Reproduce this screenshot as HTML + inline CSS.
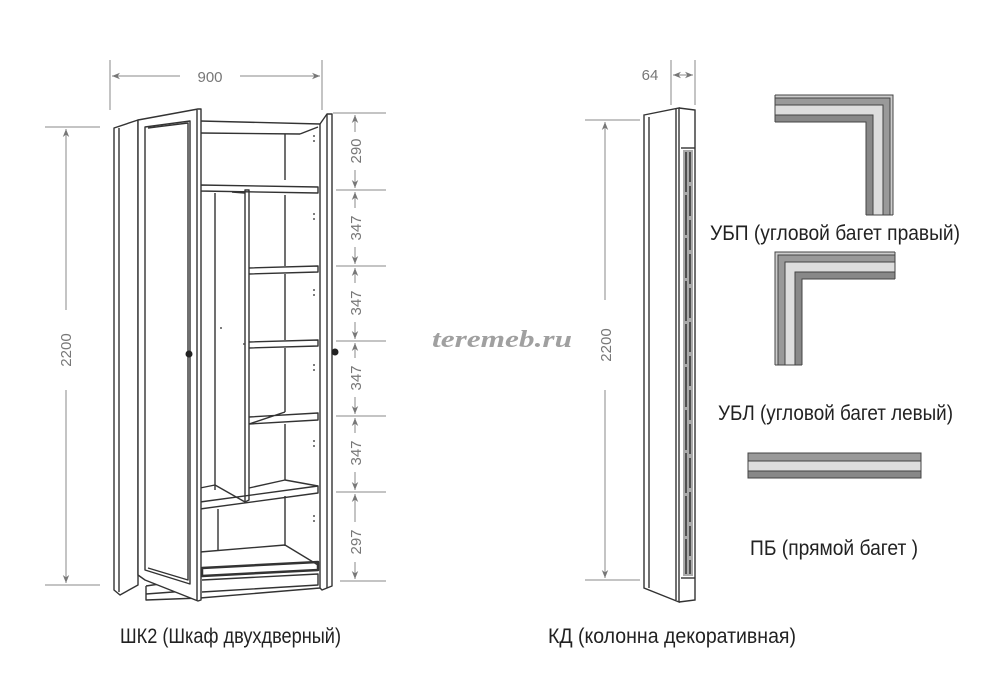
<!DOCTYPE html>
<html><head><meta charset="utf-8"><style>
html,body{margin:0;padding:0;background:#fff}
svg{display:block}
.l{font-family:"Liberation Sans Narrow","Liberation Sans",sans-serif;fill:#222}
.d{font-family:"Liberation Sans Narrow","Liberation Sans",sans-serif;fill:#777;font-size:15px}
</style></head><body>
<svg width="1000" height="679" viewBox="0 0 1000 679" xmlns="http://www.w3.org/2000/svg">
<defs>
<marker id="a" viewBox="0 0 10 10" refX="10" refY="5" markerWidth="8" markerHeight="8" orient="auto-start-reverse"><path d="M0,1 L10,5 L0,9 L3,5 z" fill="#777"/></marker>
</defs>
<rect width="1000" height="679" fill="#fff"/>

<g stroke="#888" stroke-width="1" fill="none">
<line x1="110" y1="60" x2="110" y2="110"/><line x1="322" y1="60" x2="322" y2="110"/>
<line x1="112" y1="76" x2="180" y2="76" marker-start="url(#a)"/><line x1="240" y1="76" x2="320" y2="76" marker-end="url(#a)"/>
<line x1="45" y1="127" x2="100" y2="127"/><line x1="45" y1="585" x2="100" y2="585"/>
<line x1="66" y1="129" x2="66" y2="310" marker-start="url(#a)"/><line x1="66" y1="390" x2="66" y2="583" marker-end="url(#a)"/>
<line x1="333" y1="113" x2="386" y2="113"/>
<line x1="336" y1="190" x2="386" y2="190"/>
<line x1="336" y1="266" x2="386" y2="266"/>
<line x1="336" y1="341" x2="386" y2="341"/>
<line x1="336" y1="416" x2="386" y2="416"/>
<line x1="336" y1="492" x2="386" y2="492"/>
<line x1="340" y1="581" x2="386" y2="581"/>
<line x1="355" y1="115" x2="355" y2="132" marker-start="url(#a)"/><line x1="355" y1="170" x2="355" y2="188" marker-end="url(#a)"/>
<line x1="355" y1="192" x2="355" y2="208" marker-start="url(#a)"/><line x1="355" y1="247" x2="355" y2="264" marker-end="url(#a)"/>
<line x1="355" y1="268" x2="355" y2="283" marker-start="url(#a)"/><line x1="355" y1="322" x2="355" y2="339" marker-end="url(#a)"/>
<line x1="355" y1="343" x2="355" y2="358" marker-start="url(#a)"/><line x1="355" y1="397" x2="355" y2="414" marker-end="url(#a)"/>
<line x1="355" y1="418" x2="355" y2="433" marker-start="url(#a)"/><line x1="355" y1="472" x2="355" y2="490" marker-end="url(#a)"/>
<line x1="355" y1="494" x2="355" y2="522" marker-start="url(#a)"/><line x1="355" y1="562" x2="355" y2="579" marker-end="url(#a)"/>
</g>
<text class="d" x="210" y="82" text-anchor="middle">900</text>
<text class="d" transform="translate(71,350) rotate(-90)" text-anchor="middle">2200</text>
<g class="d" text-anchor="middle">
<text transform="translate(361,151) rotate(-90)">290</text>
<text transform="translate(361,228) rotate(-90)">347</text>
<text transform="translate(361,303) rotate(-90)">347</text>
<text transform="translate(361,378) rotate(-90)">347</text>
<text transform="translate(361,453) rotate(-90)">347</text>
<text transform="translate(361,542) rotate(-90)">297</text>
</g>

<g stroke="#333" stroke-width="1.4" fill="none" stroke-linejoin="round">
<path d="M114,128 L138,120 L138,585 L120,595 L114,590 Z" fill="#fff"/>
<line x1="119" y1="128" x2="119" y2="592"/>
<path d="M200,121 L320,124 L320,588 L200,598"/>
<line x1="200" y1="133" x2="300" y2="134"/><line x1="300" y1="134" x2="318" y2="127"/>
<line x1="285" y1="134" x2="285" y2="180"/>
<path d="M200,185 L318,187 L318,193 L200,191 Z"/>
<line x1="215" y1="193" x2="215" y2="490"/>
<path d="M245,190 L249,190 L249,500 L245,502 Z"/>
<line x1="232" y1="192" x2="245" y2="193"/>
<path d="M249,268 L318,266 L318,272 L249,274"/>
<path d="M249,342 L318,340 L318,346 L249,348"/>
<path d="M249,417 L318,413 L318,420 L249,424 M249,424 L285,412"/>
<line x1="285" y1="195" x2="285" y2="266"/><line x1="285" y1="274" x2="285" y2="340"/><line x1="285" y1="348" x2="285" y2="412"/>
<line x1="285" y1="424" x2="285" y2="480"/>
<path d="M200,502 L318,486 L318,493 L200,509 Z"/>
<path d="M200,488 L215,485 M249,488 L285,480 L318,486 M215,485 L245,502"/>
<line x1="218" y1="509" x2="218" y2="550"/><line x1="285" y1="496" x2="285" y2="546"/>
<path d="M200,552 L285,545 L318,565"/>
<path d="M202,568 L318,562 L318,570 L202,576 Z" stroke-width="2.5"/>
<path d="M202,580 L318,574 L318,585 L202,592"/>
<path d="M146,586 L200,578 M146,594 L200,590 M146,586 L146,600 L200,598"/>
<path d="M138,120 L198,109 L201,109 L201,600 L198,601 L145,580 L138,575 Z" fill="#fff"/>
<line x1="197" y1="110" x2="197" y2="600"/>
<path d="M145,127 L190,121 L190,584 L145,570 Z"/>
<path d="M148,128 L188,123 L188,580 L148,568"/>
<path d="M320,124 L327,114 L332,114 L332,586 L322,590 L320,588"/>
<line x1="327" y1="114" x2="327" y2="588"/>
</g>
<circle cx="189" cy="354" r="3.5" fill="#222"/>
<circle cx="335" cy="352" r="3.5" fill="#222"/>
<g fill="#555">
<circle cx="314" cy="136" r="1"/><circle cx="314" cy="141" r="1"/>
<circle cx="314" cy="214" r="1"/><circle cx="314" cy="219" r="1"/>
<circle cx="314" cy="290" r="1"/><circle cx="314" cy="295" r="1"/>
<circle cx="314" cy="365" r="1"/><circle cx="314" cy="370" r="1"/>
<circle cx="314" cy="441" r="1"/><circle cx="314" cy="446" r="1"/>
<circle cx="314" cy="516" r="1"/><circle cx="314" cy="521" r="1"/>
<circle cx="221" cy="328" r="1"/><circle cx="244" cy="344" r="1"/>
</g>

<text x="432" y="347" font-family="Liberation Serif, serif" font-style="italic" font-weight="bold" font-size="24" fill="#a0a0a0" textLength="140" lengthAdjust="spacingAndGlyphs">teremeb.ru</text>

<g stroke="#888" stroke-width="1" fill="none">
<line x1="671" y1="60" x2="671" y2="105"/><line x1="695" y1="60" x2="695" y2="105"/>
<line x1="673" y1="75" x2="693" y2="75" marker-start="url(#a)" marker-end="url(#a)"/>
<line x1="585" y1="120" x2="640" y2="120"/><line x1="585" y1="580" x2="640" y2="580"/>
<line x1="605" y1="122" x2="605" y2="300" marker-start="url(#a)"/><line x1="605" y1="390" x2="605" y2="578" marker-end="url(#a)"/>
</g>
<text class="d" x="650" y="80" text-anchor="middle">64</text>
<text class="d" transform="translate(611,345) rotate(-90)" text-anchor="middle">2200</text>
<g stroke="#333" stroke-width="1.4" fill="none">
<path d="M644,115 L679,108 L679,602 L644,588 Z" fill="#fff"/>
<path d="M679,108 L695,110 L695,600 L679,602"/>
<line x1="676" y1="109" x2="676" y2="600"/>
<line x1="681" y1="148" x2="695" y2="148"/><line x1="681" y1="578" x2="695" y2="578"/>
<line x1="649" y1="117" x2="649" y2="588"/>
</g>
<rect x="683" y="150" width="10" height="426" fill="#aaa"/>
<g stroke="#333" stroke-width="1.5"><line x1="686" y1="152" x2="686" y2="574" stroke-dasharray="40,3"/><line x1="690" y1="152" x2="690" y2="574" stroke-dasharray="30,4"/></g>

<g fill="none" stroke-linejoin="miter" stroke-linecap="butt">
<g>
<path d="M775,96.5 L891.5,96.5 L891.5,215" stroke="#ccc" stroke-width="3"/>
<path d="M775,101.5 L886.5,101.5 L886.5,215" stroke="#999" stroke-width="7"/>
<path d="M775,110 L878,110 L878,215" stroke="#ddd" stroke-width="10"/>
<path d="M775,118.5 L869.5,118.5 L869.5,215" stroke="#888" stroke-width="7"/>
<g stroke="#444" stroke-width="1">
<path d="M775,95 L893,95 L893,215"/><path d="M775,98 L890,98 L890,215"/>
<path d="M775,105 L883,105 L883,215"/><path d="M775,115 L873,115 L873,215"/>
<path d="M775,122 L866,122 L866,215"/><line x1="775" y1="95" x2="775" y2="122"/><line x1="866" y1="215" x2="893" y2="215"/>
</g></g>
<g>
<path d="M776.5,365 L776.5,253.5 L895,253.5" stroke="#ccc" stroke-width="3"/>
<path d="M781.5,365 L781.5,258.5 L895,258.5" stroke="#999" stroke-width="7"/>
<path d="M790,365 L790,267 L895,267" stroke="#ddd" stroke-width="10"/>
<path d="M798.5,365 L798.5,275.5 L895,275.5" stroke="#888" stroke-width="7"/>
<g stroke="#444" stroke-width="1">
<path d="M775,365 L775,252 L895,252"/><path d="M778,365 L778,255 L895,255"/>
<path d="M785,365 L785,262 L895,262"/><path d="M795,365 L795,272 L895,272"/>
<path d="M802,365 L802,279 L895,279"/><line x1="775" y1="365" x2="802" y2="365"/><line x1="895" y1="252" x2="895" y2="279"/>
</g></g>
<g>
<rect x="748" y="453" width="173" height="8" fill="#999"/>
<rect x="748" y="461" width="173" height="10" fill="#ddd"/>
<rect x="748" y="471" width="173" height="7" fill="#888"/>
<g stroke="#444" stroke-width="1">
<rect x="748" y="453" width="173" height="25"/>
<line x1="748" y1="461" x2="921" y2="461"/><line x1="748" y1="471" x2="921" y2="471"/>
</g></g>
</g>

<text class="l" x="710" y="240" font-size="21" textLength="250" lengthAdjust="spacingAndGlyphs">УБП (угловой багет правый)</text>
<text class="l" x="718" y="420" font-size="21" textLength="235" lengthAdjust="spacingAndGlyphs">УБЛ (угловой багет левый)</text>
<text class="l" x="750" y="555" font-size="21" textLength="168" lengthAdjust="spacingAndGlyphs">ПБ (прямой багет )</text>
<text class="l" x="120" y="643" font-size="21" textLength="221" lengthAdjust="spacingAndGlyphs">ШК2 (Шкаф двухдверный)</text>
<text class="l" x="548" y="643" font-size="21" textLength="248" lengthAdjust="spacingAndGlyphs">КД (колонна декоративная)</text>
</svg>
</body></html>
